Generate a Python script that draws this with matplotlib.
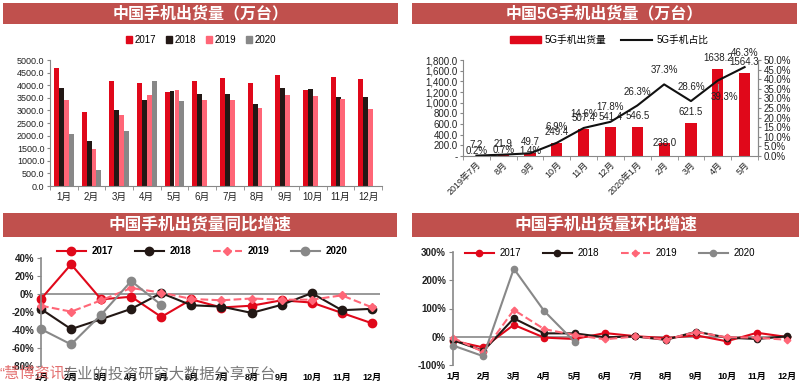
import matplotlib
matplotlib.use('Agg')
import matplotlib.pyplot as plt
from matplotlib.patches import Rectangle, Patch
from matplotlib.lines import Line2D
from matplotlib.ticker import FixedLocator, NullFormatter
import numpy as np

plt.rcParams['font.family'] = ['Liberation Sans', 'Noto Sans CJK SC', 'DejaVu Sans']
plt.rcParams['axes.unicode_minus'] = False

# ---- data ----
months = ['1月', '2月', '3月', '4月', '5月', '6月', '7月', '8月', '9月', '10月', '11月', '12月']
years = ['2017', '2018', '2019', '2020']

# monthly shipments (万台)
ship_2017 = [4670, 2950, 4180, 4090, 3720, 4160, 4280, 4100, 4400, 3810, 4310, 4240]
ship_2018 = [3890, 1800, 3000, 3410, 3780, 3650, 3670, 3250, 3890, 3850, 3530, 3550]
ship_2019 = [3400, 1450, 2810, 3630, 3820, 3420, 3410, 3080, 3610, 3580, 3460, 3040]
ship_2020 = [2070, 630, 2180, 4170, 3370]

# 5G shipments
g5_months = ['2019年7月', '8月', '9月', '10月', '11月', '12月', '2020年1月', '2月', '3月', '4月', '5月']
g5_ship = [7.2, 21.9, 49.7, 249.4, 507.4, 541.4, 546.5, 238.0, 621.5, 1638.2, 1564.3]
g5_share = [0.2, 0.7, 1.4, 6.9, 14.6, 17.8, 26.3, 37.3, 28.6, 39.3, 46.3]

# year-on-year growth (%)
yoy_2017 = [-5.5, 33, -6, -3, -25.5, -6, -15, -13, -7, -9.5, -21, -32.5]
yoy_2018 = [-16.7, -39, -28, -16.5, 1, -12.5, -14, -21, -12, 1, -18, -16.5]
yoy_2019 = [-13, -19.6, -7, 6.7, 1.5, -5.5, -7, -5, -6.3, -6.3, -1.5, -14.8]
yoy_2020 = [-39, -56, -23, 14.4, -12.2]

# month-on-month growth (%)
mom_2017 = [-14, -38, 42, -3, -8, 13, 2, -5, 5, -16, 14, -1]
mom_2018 = [-12, -50, 65, 12, 12, -2, 1, -11, 18, -3, -8, 2]
mom_2019 = [-4, -54, 95, 27, 6, -9, 1, -10, 17, -2, -3, -11]
mom_2020 = [-31, -69, 241, 91, -18]

# ---- styles ----
BANNER = '#C0504D'
C17, C18, C19, C20 = '#E0081A', '#231815', '#FF6677', '#888888'
AXC = '#888888'

W, H = 800, 389
fig = plt.figure(figsize=(W / 100, H / 100), dpi=100)


def frect(l, t, r, b):
    return [l / W, 1 - b / H, (r - l) / W, (b - t) / H]


def banner(l, t, r, b, text, size):
    fig.add_artist(Rectangle((l / W, 1 - b / H), (r - l) / W, (b - t) / H,
                             transform=fig.transFigure, facecolor=BANNER, edgecolor='none'))
    fig.text((l + r) / 2 / W, 1 - (t + b) / 2 / H, text, color='white',
             fontsize=size, fontweight='bold', ha='center', va='center')


def style_axes(ax, right=False):
    for s in ['top', 'right']:
        ax.spines[s].set_visible(False)
    ax.spines['left'].set_color(AXC)
    ax.spines['bottom'].set_color(AXC)
    if right:
        ax.spines['right'].set_visible(True)
        ax.spines['right'].set_color(AXC)
    ax.tick_params(colors=AXC, labelcolor='#222222')


# ---- top-left: monthly shipments ----
banner(3, 3, 398, 24, '中国手机出货量（万台）', 11.5)
ax1 = fig.add_axes(frect(50, 60, 382, 186))
x = np.arange(len(months))
bw = 0.18
series = [ship_2017, ship_2018, ship_2019, ship_2020]
colors = [C17, C18, C19, C20]
for k, (vals, c) in enumerate(zip(series, colors)):
    xs = x[:len(vals)] + (k - 1.5) * bw
    ax1.bar(xs, vals, bw, color=c, label=years[k])
ax1.set_xlim(-0.5, len(months) - 0.5)
ax1.set_ylim(0, 5000)
ax1.set_yticks(np.arange(0, 5001, 500))
ax1.set_yticklabels(['%.1f' % v for v in np.arange(0, 5001, 500)], fontsize=6.5)
ax1.set_xticks(x)
ax1.set_xticklabels(months, fontsize=7)
ax1.xaxis.set_minor_locator(FixedLocator(np.arange(-0.5, len(months), 1)))
ax1.tick_params(axis='x', which='major', length=0, pad=4)
ax1.tick_params(axis='x', which='minor', length=3, color=AXC)
ax1.tick_params(axis='y', length=2, pad=2)
style_axes(ax1)
handles = [Patch(color=c) for c in colors]
fig.legend(handles, years, loc='center', bbox_to_anchor=(201 / W, 1 - 40 / H), ncol=4,
           frameon=False, fontsize=7, handlelength=0.6, handleheight=0.6,
           handletextpad=0.3, columnspacing=1.0)

# ---- top-right: 5G shipments ----
banner(412, 3, 797, 24, '中国5G手机出货量（万台）', 11.5)
ax2 = fig.add_axes(frect(463, 60, 758, 156))
x5 = np.arange(len(g5_months))
ax2.bar(x5, g5_ship, 0.42, color=C17)
ax2.set_xlim(-0.5, len(g5_months) - 0.5)
ax2.set_ylim(0, 1800)
yt = np.arange(0, 1801, 200)
ax2.set_yticks(yt)
ax2.set_yticklabels(['-'] + ['{:,.1f}'.format(v) for v in yt[1:]], fontsize=7)
ax2.set_xticks(x5)
ax2.set_xticklabels(g5_months, fontsize=6.5, rotation=45, ha='right', rotation_mode='anchor')
ax2.xaxis.set_minor_locator(FixedLocator(np.arange(-0.5, len(g5_months), 1)))
ax2.tick_params(axis='x', which='major', length=0, pad=3)
ax2.tick_params(axis='x', which='minor', length=3, color=AXC)
ax2.tick_params(axis='y', length=2, pad=2)
style_axes(ax2, right=True)

ax2r = ax2.twinx()
ax2r.plot(x5, g5_share, color='#111111', lw=1.5)
ax2r.set_ylim(0, 50)
yr = np.arange(0, 50.1, 5)
ax2r.set_yticks(yr)
ax2r.set_yticklabels(['%.1f%%' % v for v in yr], fontsize=7)
ax2r.tick_params(axis='y', length=2, pad=2, colors=AXC, labelcolor='#222222')
for s in ['top', 'left', 'bottom']:
    ax2r.spines[s].set_visible(False)
ax2r.spines['right'].set_color(AXC)

# data labels (offsets in points)
bar_dy = [8, 8, 8, 8, 8, 7.5, 7.5, 0, 8, 7.5, 7.5]
share_off = [(0, 3), (0, 3), (0, 1.5), (0, 11), (0, 10), (0, 10.5), (0, 9.5),
             (0, 10), (0, 10), (5, -12), (0, 10.5)]
for i, v in enumerate(g5_ship):
    ax2.annotate('%.1f' % v, (i, v), xytext=(0, bar_dy[i]), textcoords='offset points',
                 ha='center', va='center', fontsize=7, color='#222222')
for i, v in enumerate(g5_share):
    dx, dy = share_off[i]
    ax2r.annotate('%.1f%%' % v, (i, v), xytext=(dx, dy), textcoords='offset points',
                  ha='center', va='center', fontsize=7, color='#222222')
ax2r.plot([9, 9], [34.5, 37.5], color='#999999', lw=0.8)

h5 = [Patch(color=C17), Line2D([], [], color='#111111', lw=1.5)]
fig.legend(h5, ['5G手机出货量', '5G手机占比'], loc='center', bbox_to_anchor=(609 / W, 1 - 40 / H),
           ncol=2, frameon=False, fontsize=7, handlelength=3.2, handleheight=0.7,
           handletextpad=0.4, columnspacing=1.5)


# ---- bottom charts ----
def growth_axes(rect, lims, ticks, xmax, ms):
    ax = fig.add_axes(rect)
    ax.set_xlim(0, xmax)
    ax.set_ylim(*lims)
    ax.set_yticks(ticks)
    ax.set_yticklabels(['%d%%' % t for t in ticks], fontsize=7, fontweight='bold')
    ax.set_xticks(np.arange(len(months)))
    ax.set_xticklabels(months, fontsize=6.5, fontweight='bold')
    ax.tick_params(axis='x', length=0, pad=5)
    ax.tick_params(axis='y', length=3, pad=2, colors=AXC, labelcolor='#222222')
    for s in ['top', 'right', 'bottom']:
        ax.spines[s].set_visible(False)
    ax.spines['left'].set_color(AXC)
    ax.spines['left'].set_linewidth(1.2)
    ax.axhline(0, color=AXC, lw=1.2, zorder=1)
    return ax


def draw_lines(ax, data, ms):
    styles = [dict(color=C17, marker='o', ls='-'),
              dict(color=C18, marker='o', ls='-'),
              dict(color=C19, marker='D', ls='--'),
              dict(color=C20, marker='o', ls='-')]
    hs = []
    for vals, st in zip(data, styles):
        m = ms * 0.75 if st['marker'] == 'D' else ms
        line, = ax.plot(np.arange(len(vals)), vals, lw=1.5, markersize=m, clip_on=False, **st)
        hs.append(line)
    return hs


banner(3, 213, 397, 237, '中国手机出货量同比增速', 12)
ax3 = growth_axes(frect(41, 258, 380, 366), (-80, 40), np.arange(-80, 41, 20), 11.27, 6)
hs = draw_lines(ax3, [yoy_2017, yoy_2018, yoy_2019, yoy_2020], 6)
fig.legend(hs, years, loc='center', bbox_to_anchor=(202 / W, 1 - 251 / H), ncol=4,
           frameon=False, prop={'size': 7, 'weight': 'bold'}, handlelength=3.0,
           handletextpad=0.6, columnspacing=2.2)

banner(412, 213, 799, 237, '中国手机出货量环比增速', 12)
ax4 = growth_axes(frect(453, 252, 792, 365), (-100, 300), np.arange(-100, 301, 100), 11.15, 4.5)
hs = draw_lines(ax4, [mom_2017, mom_2018, mom_2019, mom_2020], 4.5)
fig.legend(hs, years, loc='center', bbox_to_anchor=(610 / W, 1 - 253 / H), ncol=4,
           frameon=False, fontsize=7, handlelength=3.0,
           handletextpad=0.6, columnspacing=2.2)

# watermark text
fig.text(0 / W, 1 - 374 / H, '“慧博资讯”', color='#E06060', fontsize=11, ha='left', va='center', alpha=0.9)
fig.text(62 / W, 1 - 374 / H, '专业的投资研究大数据分享平台', color='#555555', fontsize=11,
         ha='left', va='center', alpha=0.8)

fig.savefig('out.png', dpi=100)
